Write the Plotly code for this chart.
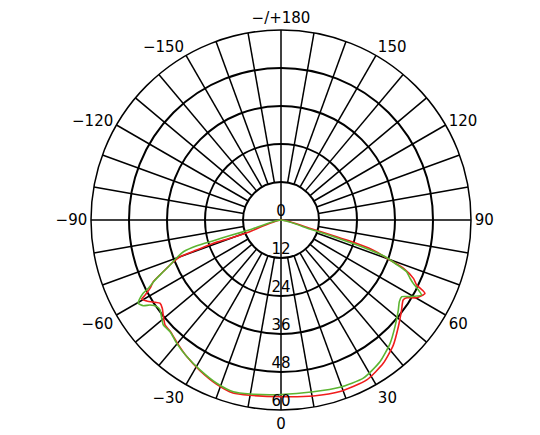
import plotly.graph_objects as go

# Angular tick labels
angle_ticks = [0, 30, 60, 90, 120, 150, 180, 210, 240, 270, 300, 330]
angle_labels = ["0", "30", "60", "90", "120", "150", "\u2212/+180", "\u2212150", "\u2212120",
                "\u221290", "\u221260", "\u221230"]

# Radial ticks
radial_ticks = [0, 12, 24, 36, 48, 60]
radial_labels = ["0", "12", "24", "36", "48", "60"]

# Red series (theta in degrees, 0 = down, r = intensity)
red_theta = [-90, -69.5, -70.3, -71.0, -70.4, -70.0, -68.4, -66.7, -64.2, -62.5, -61.1, -60.4,
             -58.9, -56.8, -55.5, -53.4, -51.1, -47.8, -44.8, -40.2, -34.6, -28.4, -21.5, -15.5,
             -10.0, 0, 10.4, 19.0, 28.2, 35.5, 41.9, 47.7, 53.3, 56.8, 58.3, 60.2, 63.0, 64.4,
             66.2, 68.5, 70.0, 71.0, 72.0, 73.0, 73.5, 74.0, 90]
red_r = [0, 10.5, 17.1, 22.6, 28.3, 33.9, 37.1, 39.9, 44.8, 46.6, 49.0, 50.6,
         49.5, 47.5, 46.4, 46.7, 47.8, 49.4, 49.6, 50.8, 52.4, 54.0, 55.7, 56.7,
         56.2, 55.8, 56.5, 57.3, 57.3, 55.6, 53.1, 50.1, 47.5, 46.1, 46.7, 49.4, 51.0, 47.5,
         45.7, 41.5, 36.0, 33.3, 30.3, 22.5, 16.0, 9.4, 0]

# Green series
green_theta = [-90, -72.5, -73.0, -73.0, -73.0, -72.0, -70.1, -67.9, -65.9, -64.5, -62.8, -62.0,
               -60.6, -59.7, -58.1, -57.0, -55.1, -53.4, -50.5, -48.3, -44.8, -40.2, -34.6, -28.4,
               -21.5, -15.5, -10.0, 0, 10.7, 19.4, 27.5, 34.9, 41.5, 46.9, 52.5, 55.4, 57.6,
               59.3, 61.9, 63.0, 64.4, 65.7, 67.6, 69.0, 70.5, 71.5, 72.0, 72.5, 72.5, 90]
green_r = [0, 10.3, 16.8, 22.3, 27.8, 32.4, 35.0, 37.8, 41.3, 44.1, 47.1, 49.3,
           51.4, 52.2, 51.2, 49.3, 47.8, 47.6, 48.8, 49.8, 49.7, 51.0, 52.4, 53.8,
           55.4, 56.3, 55.8, 55.1, 55.2, 56.0, 56.3, 54.6, 52.0, 49.3, 46.7, 45.4, 45.2,
           47.4, 50.3, 48.7, 46.3, 44.7, 42.9, 39.0, 35.2, 29.3, 22.7, 16.0, 9.5, 0]

FONT = "DejaVu Sans"
FSIZE = 15
SPOKE_W = 1.5
RING_W = 1.5

fig = go.Figure()

# spokes every 10 degrees, from the first ring outward; main axes through the centre
sp_t, sp_r = [], []
for a in range(0, 360, 10):
    inner = 0 if a % 90 == 0 else radial_ticks[1]
    sp_t += [a, a, None]
    sp_r += [inner, radial_ticks[-1], None]
fig.add_trace(go.Scatterpolar(theta=sp_t, r=sp_r, mode="lines",
                              line=dict(color="black", width=SPOKE_W),
                              hoverinfo="skip", showlegend=False))

fig.add_trace(go.Scatterpolar(theta=red_theta, r=red_r, mode="lines",
                              line=dict(color="#f01c1c", width=1.6, shape="spline", smoothing=0.6),
                              showlegend=False))
fig.add_trace(go.Scatterpolar(theta=green_theta, r=green_r, mode="lines",
                              line=dict(color="#5cb531", width=1.6, shape="spline", smoothing=0.6),
                              showlegend=False))

fig.add_trace(go.Scatterpolar(theta=[0] * len(radial_ticks), r=radial_ticks, mode="text",
                              text=radial_labels, textposition="top center",
                              textfont=dict(family=FONT, size=FSIZE, color="black"),
                              hoverinfo="skip", showlegend=False))

fig.update_layout(
    width=540, height=435,
    margin=dict(l=83, r=77, t=22, b=33),
    paper_bgcolor="white", plot_bgcolor="white",
    font=dict(family=FONT, size=FSIZE, color="black"),
    polar=dict(
        bgcolor="white",
        domain=dict(x=[0, 1], y=[0, 1]),
        angularaxis=dict(rotation=270, direction="counterclockwise",
                         tickmode="array", tickvals=angle_ticks, ticktext=angle_labels,
                         showgrid=False, ticks="", showline=True,
                         linecolor="black", linewidth=1.5,
                         tickfont=dict(family=FONT, size=FSIZE, color="black")),
        radialaxis=dict(range=[0, 60], tickmode="array", tickvals=radial_ticks[1:],
                        showticklabels=False, ticks="", showline=False,
                        showgrid=True, gridcolor="black", gridwidth=RING_W),
    ),
)

fig.write_html("out.html")
